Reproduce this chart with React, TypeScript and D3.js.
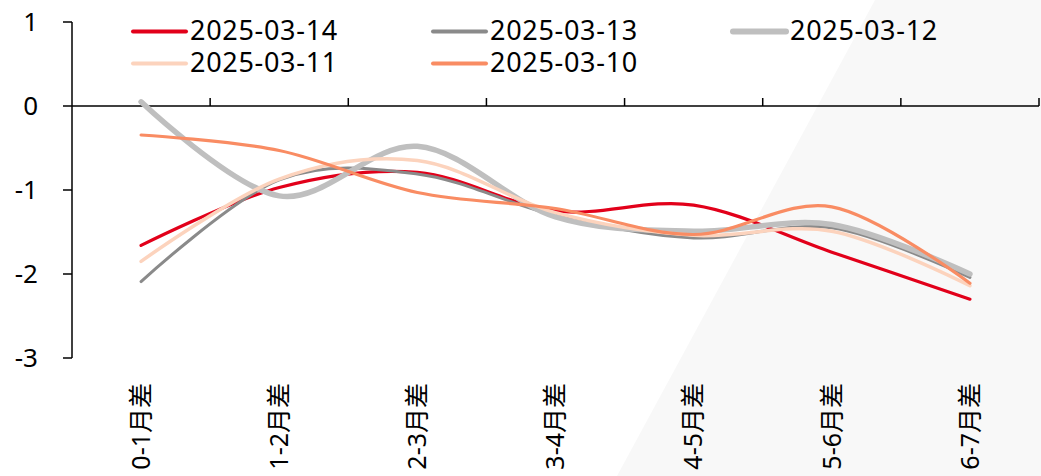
import React from "react";
import * as d3 from "d3";

// Month-spread categories along the x axis
const categories = ["0-1月差", "1-2月差", "2-3月差", "3-4月差", "4-5月差", "5-6月差", "6-7月差"];

// Spread values per trading date
const s20250314 = [-1.66, -0.97, -0.79, -1.25, -1.18, -1.74, -2.3];
const s20250313 = [-2.09, -0.88, -0.81, -1.3, -1.57, -1.45, -2.04];
const s20250312 = [0.05, -1.07, -0.48, -1.32, -1.49, -1.41, -2.0];
const s20250311 = [-1.85, -0.87, -0.65, -1.27, -1.54, -1.49, -2.14];
const s20250310 = [-0.345, -0.53, -1.03, -1.22, -1.53, -1.2, -2.11];

const yTicks = [-3, -2, -1, 0, 1];

const seriesNames = ["2025-03-14", "2025-03-13", "2025-03-12", "2025-03-11", "2025-03-10"];
const seriesValues = [s20250314, s20250313, s20250312, s20250311, s20250310];
const seriesColors = ["#e2001a", "#8a8a8a", "#bfbfbf", "#fcd3bd", "#f98c63"];
const seriesWidths = [3.2, 3, 5.5, 3.5, 3.2];
const legendWidths = [4, 4, 6, 4, 4];

const W = 1041;
const H = 476;
const FONT = "'Noto Sans', 'Noto Sans CJK SC', sans-serif";

export default function App() {
  const x = d3.scaleBand<string>().domain(categories).range([72, 1039]).padding(0);
  const y = d3.scaleLinear().domain([-3, 1]).range([358, 22]);
  const cx = (c: string) => (x(c) as number) + x.bandwidth() / 2;

  const line = d3
    .line<number>()
    .x((_, i) => cx(categories[i]))
    .y((v) => y(v))
    .curve(d3.curveCatmullRom.alpha(0));

  const legendCols = [133, 433, 733];
  const legendRows = [31.5, 63.5];

  return (
    <svg
      width={W}
      height={H}
      style={{ position: "absolute", left: 0, top: 0, display: "block", background: "#ffffff" }}
      fontFamily={FONT}
    >
      {/* light backdrop panel on the right */}
      <polygon points={`875,0 ${W},0 ${W},${H} 617,${H}`} fill="#f8f8f8" />

      {/* y axis */}
      <line x1={72} x2={72} y1={y(1)} y2={y(-3)} stroke="#000" strokeWidth={1.5} />
      {yTicks.map((t) => (
        <g key={t}>
          <line x1={63} x2={72} y1={y(t)} y2={y(t)} stroke="#000" strokeWidth={1.5} />
          <text x={38} y={y(t)} dy="0.35em" textAnchor="end" fontSize={26} fill="#000">
            {t}
          </text>
        </g>
      ))}

      {/* x axis along zero */}
      <line x1={72} x2={1039} y1={y(0)} y2={y(0)} stroke="#000" strokeWidth={1.5} />
      {categories.map((c) => {
        const bx = (x(c) as number) + x.bandwidth();
        return <line key={"t" + c} x1={bx} x2={bx} y1={y(0)} y2={y(0) - 8} stroke="#000" strokeWidth={1.5} />;
      })}

      {/* category labels */}
      {categories.map((c) => (
        <text
          key={"l" + c}
          transform={`translate(${cx(c)},383) rotate(-90)`}
          dy="0.35em"
          textAnchor="end"
          fontSize={25}
          fill="#000"
        >
          {c}
        </text>
      ))}

      {/* series */}
      {seriesValues.map((vals, i) => (
        <path
          key={seriesNames[i]}
          d={line(vals) as string}
          fill="none"
          stroke={seriesColors[i]}
          strokeWidth={seriesWidths[i]}
          strokeLinecap="round"
          strokeLinejoin="round"
        />
      ))}

      {/* legend */}
      {seriesNames.map((name, i) => {
        const col = i % 3;
        const row = Math.floor(i / 3);
        const lx = legendCols[col];
        const ly = legendRows[row];
        return (
          <g key={"lg" + name}>
            <line
              x1={lx}
              x2={lx + 53}
              y1={ly}
              y2={ly}
              stroke={seriesColors[i]}
              strokeWidth={legendWidths[i]}
              strokeLinecap="round"
            />
            <text x={lx + 57} y={ly + 8.5} fontSize={27} letterSpacing={0.7} fill="#000">
              {name}
            </text>
          </g>
        );
      })}
    </svg>
  );
}
